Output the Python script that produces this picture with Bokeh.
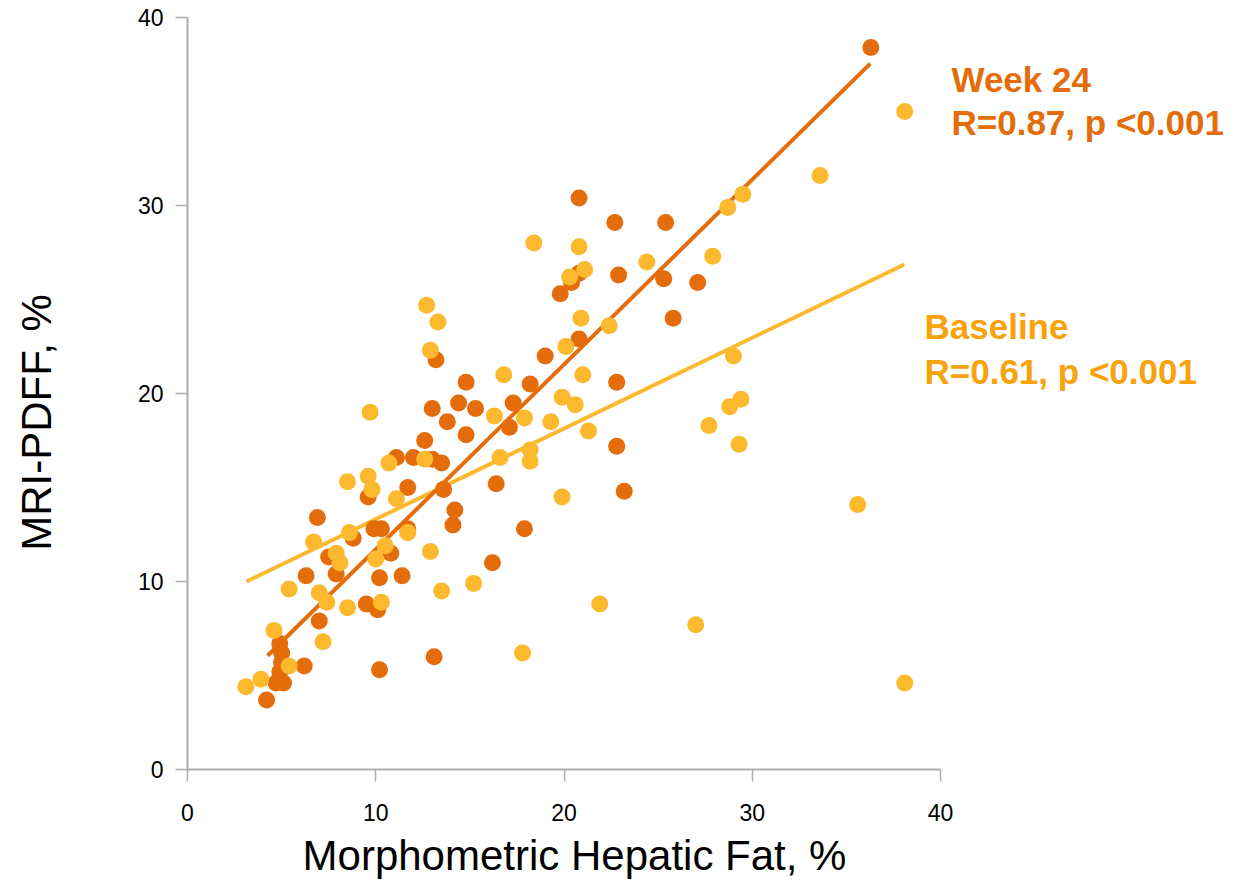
from bokeh.plotting import figure
from bokeh.models import Range1d, FixedTicker, Label
from bokeh.embed import file_html
from bokeh.resources import INLINE

# ---- data ----
week24_x = [36.3, 20.8, 22.7, 25.4, 22.9, 25.3, 27.1, 20.8, 20.4, 19.8, 25.8, 20.8, 19.0,
            13.2, 14.8, 18.2, 22.8, 14.4, 15.3, 17.3, 13.0, 13.8, 14.8, 17.1, 22.8, 12.6,
            11.1, 12.0, 13.0, 13.5, 16.4, 23.2, 13.6, 11.7, 9.6, 14.2, 14.1, 17.9, 6.9,
            9.9, 10.3, 11.7, 8.8, 16.2, 7.5, 10.8, 7.9, 6.3, 10.2, 11.4, 9.5, 10.1, 7.0,
            13.1, 10.2, 6.2, 4.9, 5.0, 5.0, 4.9, 5.1, 4.7, 4.2]
week24_y = [38.4, 30.4, 29.1, 29.1, 26.3, 26.1, 25.9, 26.4, 25.9, 25.3, 24.0, 22.9, 22.0,
            21.8, 20.6, 20.5, 20.6, 19.5, 19.2, 19.5, 19.2, 18.5, 17.8, 18.2, 17.2, 17.5,
            16.6, 16.6, 16.5, 16.3, 15.2, 14.8, 14.9, 15.0, 14.5, 13.8, 13.0, 12.8, 13.4,
            12.8, 12.8, 12.8, 12.3, 11.0, 11.3, 11.5, 10.4, 10.3, 10.2, 10.3, 8.8, 8.5, 7.9,
            6.0, 5.3, 5.5, 6.7, 6.2, 5.7, 5.2, 4.6, 4.6, 3.7]

baseline_x = [38.1, 33.6, 29.5, 28.7, 18.4, 20.8, 21.1, 20.3, 24.4, 27.9, 12.7, 13.3, 20.9,
              22.4, 12.9, 29.0, 20.1, 16.8, 21.0, 19.9, 20.6, 29.4, 28.8, 9.7, 16.3, 17.9,
              19.3, 21.3, 27.7, 29.3, 18.2, 18.2, 16.6, 12.6, 10.7, 9.6, 9.8, 8.5, 11.1,
              19.9, 35.6, 6.7, 8.6, 11.7, 10.5, 7.9, 8.1, 10.0, 12.9, 15.2, 13.5, 5.4, 7.0,
              7.4, 8.5, 10.3, 21.9, 27.0, 4.6, 7.2, 17.8, 5.4, 3.9, 3.1, 38.1]
baseline_y = [35.0, 31.6, 30.6, 29.9, 28.0, 27.8, 26.6, 26.2, 27.0, 27.3, 24.7, 23.8, 24.0,
              23.6, 22.3, 22.0, 22.5, 21.0, 21.0, 19.8, 19.4, 19.7, 19.3, 19.0, 18.8, 18.7,
              18.5, 18.0, 18.3, 17.3, 17.0, 16.4, 16.6, 16.5, 16.3, 15.6, 14.9, 15.3, 14.4,
              14.5, 14.1, 12.1, 12.6, 12.6, 11.9, 11.5, 11.0, 11.2, 11.6, 9.9, 9.5, 9.6, 9.4,
              8.9, 8.6, 8.9, 8.8, 7.7, 7.4, 6.8, 6.2, 5.5, 4.8, 4.4, 4.6]

# regression line end points
week24_fit_x = [4.25, 36.27]
week24_fit_y = [6.05, 37.55]
baseline_fit_x = [3.13, 38.08]
baseline_fit_y = [10.0, 26.86]

x_ticks = [0, 10, 20, 30, 40]
y_ticks = [0, 10, 20, 30, 40]

x_title = "Morphometric Hepatic Fat, %"
y_title = "MRI-PDFF, %"
week24_label = ["Week 24", "R=0.87, p <0.001"]
baseline_label = ["Baseline", "R=0.61, p <0.001"]

# ---- styling ----
DARK = "#E46C0A"
YELLOW = "#FDB92E"
BASE_TXT = "#F8A20C"
AXIS = "#ADADAD"
FONT = "Liberation Sans"

W, H = 1240, 884
X0_PX, X40_PX = 187, 940
Y40_PX, Y0_PX = 17, 769
sx = (X40_PX - X0_PX) / 40.0
sy = (Y0_PX - Y40_PX) / 40.0

p = figure(width=W, height=H, output_backend="svg", toolbar_location=None,
           x_range=Range1d(-X0_PX / sx, (W - X0_PX) / sx),
           y_range=Range1d(-(H - Y0_PX) / sy, 40 + Y40_PX / sy),
           min_border=0, min_border_left=0, min_border_right=0,
           min_border_top=0, min_border_bottom=0)
p.outline_line_color = None
p.xgrid.visible = False
p.ygrid.visible = False
p.background_fill_color = "white"
p.border_fill_color = "white"

for ax in (p.xaxis[0], p.yaxis[0]):
    ax.fixed_location = 0
    ax.bounds = (0, 40)
    ax.axis_line_color = AXIS
    ax.axis_line_width = 2
    ax.major_tick_line_color = AXIS
    ax.major_tick_line_width = 1.5
    ax.major_tick_out = 12
    ax.major_tick_in = 0
    ax.minor_tick_line_color = None
    ax.major_label_text_font = FONT
    ax.major_label_text_font_size = "23px"
    ax.major_label_text_color = "black"

p.xaxis.ticker = FixedTicker(ticks=x_ticks)
p.yaxis.ticker = FixedTicker(ticks=y_ticks)
p.xaxis.major_label_standoff = 22
p.yaxis.major_label_standoff = 12

# fit lines
p.line(baseline_fit_x, baseline_fit_y, line_color=YELLOW, line_width=4)
p.line(week24_fit_x, week24_fit_y, line_color=DARK, line_width=4)

# points
p.scatter(week24_x, week24_y, size=17, fill_color=DARK, line_color=None)
p.scatter(baseline_x, baseline_y, size=17, fill_color=YELLOW, line_color=None)

# axis titles (pixel targets converted to data coordinates)
p.add_layout(Label(x=(574 - X0_PX) / sx, y=(Y0_PX - 855) / sy, text=x_title, text_font=FONT,
                   text_font_size="42px", text_align="center", text_baseline="alphabetic",
                   text_color="black"))
p.add_layout(Label(x=(36 - X0_PX) / sx, y=(Y0_PX - 422) / sy, text=y_title, text_font=FONT,
                   text_font_size="42px", angle=1.5707963, text_align="center",
                   text_baseline="alphabetic", text_color="black"))

# annotations
def ann(px, py, txt, col):
    p.add_layout(Label(x=(px - X0_PX) / sx, y=(Y0_PX - py) / sy, text=txt, text_font=FONT,
                       text_font_size="35px", text_font_style="bold", text_color=col,
                       text_baseline="alphabetic"))

ann(951, 79, week24_label[0], DARK)
ann(951, 122, week24_label[1], DARK)
ann(924, 326, baseline_label[0], BASE_TXT)
ann(924, 371, baseline_label[1], BASE_TXT)

open("out.html", "w").write(file_html(p, INLINE))
